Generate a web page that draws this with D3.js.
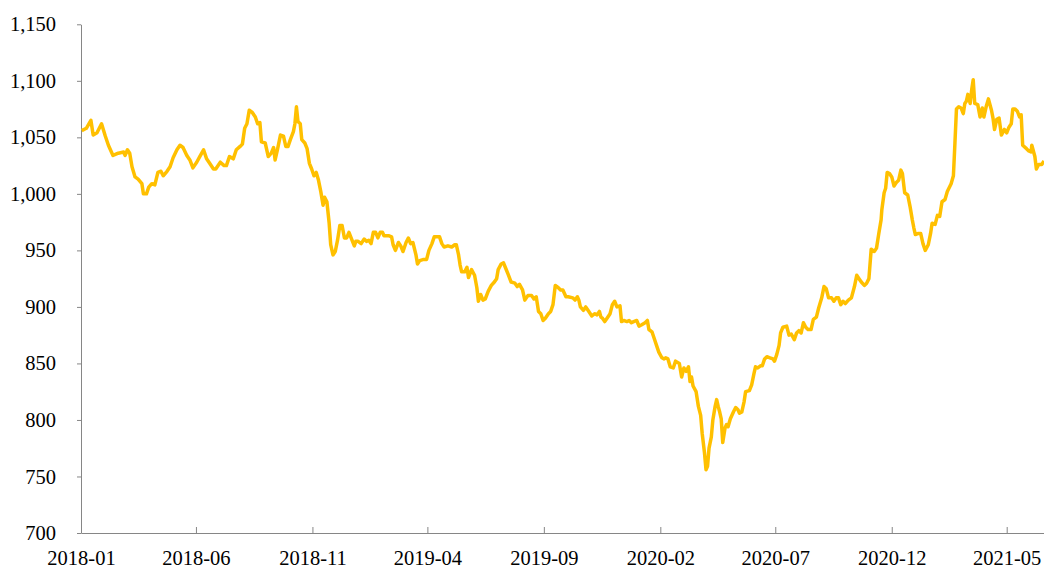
<!DOCTYPE html>
<html>
<head>
<meta charset="utf-8">
<script src="https://cdn.jsdelivr.net/npm/d3@7"></script>
<style>
    body { margin: 0; background: #fff; }
    svg text { font-family: "Liberation Serif", "Times New Roman", serif; font-size: 20.5px; fill: #000; }
</style>
</head>
<body>
<svg id="chart" width="1044" height="568"></svg>
<script>
// tick labels
var xTickLabels = ['2018-01', '2018-06', '2018-11', '2019-04', '2019-09', '2020-02', '2020-07', '2020-12', '2021-05'];
var yTickValues = [700, 750, 800, 850, 900, 950, 1000, 1050, 1100, 1150];

// series
var dates = [
    '2018-01-02', '2018-01-08', '2018-01-14', '2018-01-17', '2018-01-22', '2018-01-28', '2018-02-02', '2018-02-06', '2018-02-12', '2018-02-19',
    '2018-02-26', '2018-02-28', '2018-03-03', '2018-03-06', '2018-03-09', '2018-03-13', '2018-03-17', '2018-03-22', '2018-03-24', '2018-03-28',
    '2018-03-31', '2018-04-04', '2018-04-08', '2018-04-12', '2018-04-16', '2018-04-19', '2018-04-24', '2018-04-28', '2018-05-02', '2018-05-07',
    '2018-05-11', '2018-05-15', '2018-05-20', '2018-05-24', '2018-05-28', '2018-06-02', '2018-06-06', '2018-06-11', '2018-06-15', '2018-06-19',
    '2018-06-24', '2018-06-27', '2018-07-03', '2018-07-08', '2018-07-11', '2018-07-15', '2018-07-20', '2018-07-24', '2018-07-29', '2018-08-01',
    '2018-08-04', '2018-08-07', '2018-08-10', '2018-08-14', '2018-08-18', '2018-08-21', '2018-08-24', '2018-08-26', '2018-08-31', '2018-09-04',
    '2018-09-08', '2018-09-11', '2018-09-13', '2018-09-16', '2018-09-20', '2018-09-24', '2018-09-27', '2018-09-30', '2018-10-03', '2018-10-07',
    '2018-10-09', '2018-10-11', '2018-10-13', '2018-10-16', '2018-10-18', '2018-10-22', '2018-10-25', '2018-10-28', '2018-10-31', '2018-11-03',
    '2018-11-06', '2018-11-09', '2018-11-12', '2018-11-15', '2018-11-17', '2018-11-20', '2018-11-23', '2018-11-25', '2018-11-28', '2018-12-01',
    '2018-12-04', '2018-12-07', '2018-12-10', '2018-12-13', '2018-12-16', '2018-12-19', '2018-12-23', '2018-12-26', '2018-12-28', '2018-12-31',
    '2019-01-04', '2019-01-08', '2019-01-11', '2019-01-14', '2019-01-17', '2019-01-20', '2019-01-23', '2019-01-26', '2019-01-29', '2019-02-01',
    '2019-02-03', '2019-02-09', '2019-02-13', '2019-02-15', '2019-02-18', '2019-02-22', '2019-02-25', '2019-02-28', '2019-03-04', '2019-03-07',
    '2019-03-10', '2019-03-13', '2019-03-17', '2019-03-19', '2019-03-22', '2019-03-27', '2019-03-31', '2019-04-03', '2019-04-07', '2019-04-10',
    '2019-04-13', '2019-04-17', '2019-04-20', '2019-04-23', '2019-04-28', '2019-05-03', '2019-05-07', '2019-05-09', '2019-05-12', '2019-05-14',
    '2019-05-16', '2019-05-20', '2019-05-23', '2019-05-25', '2019-05-29', '2019-06-02', '2019-06-05', '2019-06-07', '2019-06-10', '2019-06-13',
    '2019-06-16', '2019-06-20', '2019-06-24', '2019-06-28', '2019-07-01', '2019-07-03', '2019-07-07', '2019-07-10', '2019-07-13', '2019-07-16',
    '2019-07-20', '2019-07-25', '2019-07-28', '2019-07-31', '2019-08-04', '2019-08-07', '2019-08-11', '2019-08-16', '2019-08-19', '2019-08-22',
    '2019-08-25', '2019-08-28', '2019-08-31', '2019-09-03', '2019-09-07', '2019-09-10', '2019-09-13', '2019-09-16', '2019-09-20', '2019-09-23',
    '2019-09-26', '2019-09-30', '2019-10-03', '2019-10-09', '2019-10-12', '2019-10-15', '2019-10-17', '2019-10-19', '2019-10-23', '2019-10-26',
    '2019-10-29', '2019-11-03', '2019-11-07', '2019-11-10', '2019-11-13', '2019-11-15', '2019-11-17', '2019-11-20', '2019-11-23', '2019-11-27',
    '2019-11-30', '2019-12-03', '2019-12-06', '2019-12-10', '2019-12-12', '2019-12-15', '2019-12-19', '2019-12-22', '2019-12-25', '2019-12-28',
    '2020-01-01', '2020-01-04', '2020-01-07', '2020-01-12', '2020-01-15', '2020-01-17', '2020-01-21', '2020-01-24', '2020-01-27', '2020-01-30',
    '2020-02-03', '2020-02-06', '2020-02-08', '2020-02-11', '2020-02-14', '2020-02-18', '2020-02-21', '2020-02-26', '2020-02-29', '2020-03-03',
    '2020-03-06', '2020-03-09', '2020-03-11', '2020-03-13', '2020-03-15', '2020-03-19', '2020-03-22', '2020-03-25', '2020-03-27', '2020-03-30',
    '2020-04-01', '2020-04-03', '2020-04-05', '2020-04-08', '2020-04-10', '2020-04-13', '2020-04-15', '2020-04-17', '2020-04-19', '2020-04-21',
    '2020-04-23', '2020-04-26', '2020-04-28', '2020-04-30', '2020-05-03', '2020-05-07', '2020-05-10', '2020-05-13', '2020-05-15', '2020-05-18',
    '2020-05-21', '2020-05-23', '2020-05-28', '2020-05-31', '2020-06-03', '2020-06-05', '2020-06-08', '2020-06-12', '2020-06-14', '2020-06-17',
    '2020-06-20', '2020-06-24', '2020-06-28', '2020-06-30', '2020-07-03', '2020-07-06', '2020-07-08', '2020-07-11', '2020-07-16', '2020-07-19',
    '2020-07-22', '2020-07-26', '2020-07-29', '2020-08-01', '2020-08-04', '2020-08-07', '2020-08-10', '2020-08-13', '2020-08-17', '2020-08-20',
    '2020-08-24', '2020-08-27', '2020-08-31', '2020-09-03', '2020-09-06', '2020-09-09', '2020-09-13', '2020-09-16', '2020-09-19', '2020-09-22',
    '2020-09-25', '2020-09-28', '2020-10-01', '2020-10-05', '2020-10-09', '2020-10-13', '2020-10-16', '2020-10-19', '2020-10-22', '2020-10-26',
    '2020-10-29', '2020-11-01', '2020-11-04', '2020-11-08', '2020-11-11', '2020-11-14', '2020-11-17', '2020-11-18', '2020-11-21', '2020-11-23',
    '2020-11-25', '2020-11-28', '2020-12-01', '2020-12-04', '2020-12-07', '2020-12-10', '2020-12-13', '2020-12-15', '2020-12-18', '2020-12-22',
    '2020-12-25', '2020-12-28', '2020-12-30', '2021-01-01', '2021-01-05', '2021-01-08', '2021-01-11', '2021-01-14', '2021-01-18', '2021-01-21',
    '2021-01-23', '2021-01-27', '2021-01-30', '2021-02-02', '2021-02-05', '2021-02-09', '2021-02-12', '2021-02-17', '2021-02-20', '2021-02-22',
    '2021-02-24', '2021-02-27', '2021-03-02', '2021-03-05', '2021-03-07', '2021-03-09', '2021-03-11', '2021-03-14', '2021-03-16', '2021-03-18',
    '2021-03-20', '2021-03-24', '2021-03-27', '2021-03-30', '2021-04-01', '2021-04-04', '2021-04-07', '2021-04-11', '2021-04-13', '2021-04-15',
    '2021-04-18', '2021-04-21', '2021-04-24', '2021-04-28', '2021-05-01', '2021-05-04', '2021-05-07', '2021-05-09', '2021-05-12', '2021-05-15',
    '2021-05-18', '2021-05-20', '2021-05-22', '2021-05-27', '2021-05-30', '2021-06-02', '2021-06-03', '2021-06-07', '2021-06-09', '2021-06-12',
    '2021-06-16', '2021-06-19'
];

var values = [
    1056, 1058, 1065, 1052, 1054, 1062, 1051, 1043, 1034, 1036,
    1037, 1034, 1039, 1036, 1024, 1015, 1013, 1009, 1000, 1000,
    1006, 1009, 1008, 1019, 1020, 1016, 1020, 1024, 1032, 1039,
    1043, 1041, 1034, 1030, 1023, 1028, 1033, 1039, 1031, 1027,
    1022, 1022, 1028, 1025, 1025, 1033, 1031, 1039, 1042, 1044,
    1058, 1062, 1074, 1072, 1068, 1062, 1063, 1046, 1045, 1033,
    1036, 1041, 1030, 1039, 1052, 1051, 1042, 1042, 1048, 1055,
    1062, 1077, 1064, 1062, 1048, 1045, 1040, 1027, 1022, 1016,
    1019, 1012, 1002, 990, 997, 993, 974, 955, 946, 949,
    959, 972, 972, 961, 961, 966, 959, 954, 958, 958,
    956, 960, 958, 959, 956, 966, 966, 961, 966, 966,
    963, 963, 962, 955, 950, 957, 954, 949, 957, 961,
    956, 957, 946, 938, 941, 942, 942, 950, 956, 962,
    962, 962, 956, 953, 954, 953, 955, 955, 946, 937,
    931, 931, 935, 926, 933, 928, 917, 905, 911, 906,
    907, 914, 919, 922, 925, 933, 938, 939, 934, 929,
    922, 921, 918, 920, 915, 906, 910, 910, 907, 909,
    896, 894, 888, 890, 894, 896, 902, 919, 917, 915,
    915, 909, 909, 908, 906, 909, 906, 900, 897, 900,
    897, 892, 894, 893, 896, 891, 890, 887, 890, 894,
    902, 905, 900, 901, 887, 888, 887, 888, 886, 887,
    888, 883, 884, 886, 888, 880, 878, 872, 866, 860,
    855, 854, 855, 854, 847, 846, 852, 850, 838, 846,
    843, 847, 834, 838, 830, 825, 812, 804, 788, 771,
    756, 759, 775, 785, 800, 812, 818, 812, 807, 801,
    780, 793, 796, 794, 801, 807, 811, 809, 806, 807,
    816, 825, 826, 831, 841, 847, 846, 848, 848, 854,
    856, 855, 854, 852, 858, 866, 877, 882, 883, 875,
    876, 871, 877, 879, 877, 886, 882, 880, 880, 889,
    891, 899, 908, 918, 916, 908, 908, 905, 908, 908,
    902, 905, 903, 906, 908, 918, 928, 925, 922, 919,
    921, 925, 951, 949, 952, 965, 977, 986, 1001, 1005,
    1019, 1018, 1015, 1007, 1010, 1012, 1021, 1018, 1001, 999,
    989, 977, 970, 964, 965, 965, 956, 950, 955, 965,
    974, 973, 981, 980, 993, 995, 1002, 1009, 1016, 1045,
    1075, 1077, 1076, 1071, 1080, 1082, 1088, 1080, 1092, 1101,
    1080, 1079, 1068, 1076, 1068, 1077, 1084, 1074, 1067, 1057,
    1066, 1067, 1052, 1057, 1054, 1059, 1062, 1075, 1075, 1073,
    1068, 1070, 1043, 1040, 1038, 1037, 1043, 1033, 1022, 1026,
    1026, 1029
];

var parseDay = d3.timeParse('%Y-%m-%d');
var parseMonth = d3.timeParse('%Y-%m');

var series = dates.map(function (d, i) {
    return { date: parseDay(d), value: values[i] };
});

var svg = d3.select('#chart');

// plot box
var plotLeft = 81, plotRight = 1044, plotTop = 24.3, plotBottom = 533;

var x = d3.scaleTime()
    .domain([parseMonth('2018-01'), series[series.length - 1].date])
    .range([plotLeft, plotRight]);

var y = d3.scaleLinear()
    .domain([700, 1150])
    .range([plotBottom, plotTop]);

// y axis, ticks outside
svg.append('g')
    .attr('transform', 'translate(' + plotLeft + ',0)')
    .call(d3.axisLeft(y)
        .tickValues(yTickValues)
        .tickFormat(d3.format(','))
        .tickSize(4)
        .tickPadding(21)
        .tickSizeOuter(0));

// x axis, ticks pointing up into the plot
svg.append('g')
    .attr('transform', 'translate(0,' + plotBottom + ')')
    .call(d3.axisBottom(x)
        .tickValues(xTickLabels.map(parseMonth))
        .tickFormat(d3.timeFormat('%Y-%m'))
        .tickSize(-6)
        .tickPadding(17)
        .tickSizeOuter(0));

svg.selectAll('.domain, .tick line')
    .attr('stroke', '#868686')
    .attr('stroke-width', 1);

svg.selectAll('.tick text')
    .attr('font-family', null)
    .attr('font-size', null)
    .attr('fill', '#000');

// the line
var line = d3.line()
    .x(function (d) { return x(d.date); })
    .y(function (d) { return y(d.value); });

svg.append('path')
    .datum(series)
    .attr('fill', 'none')
    .attr('stroke', '#FFC000')
    .attr('stroke-width', 3.5)
    .attr('stroke-linejoin', 'round')
    .attr('d', line);
</script>
</body>
</html>
